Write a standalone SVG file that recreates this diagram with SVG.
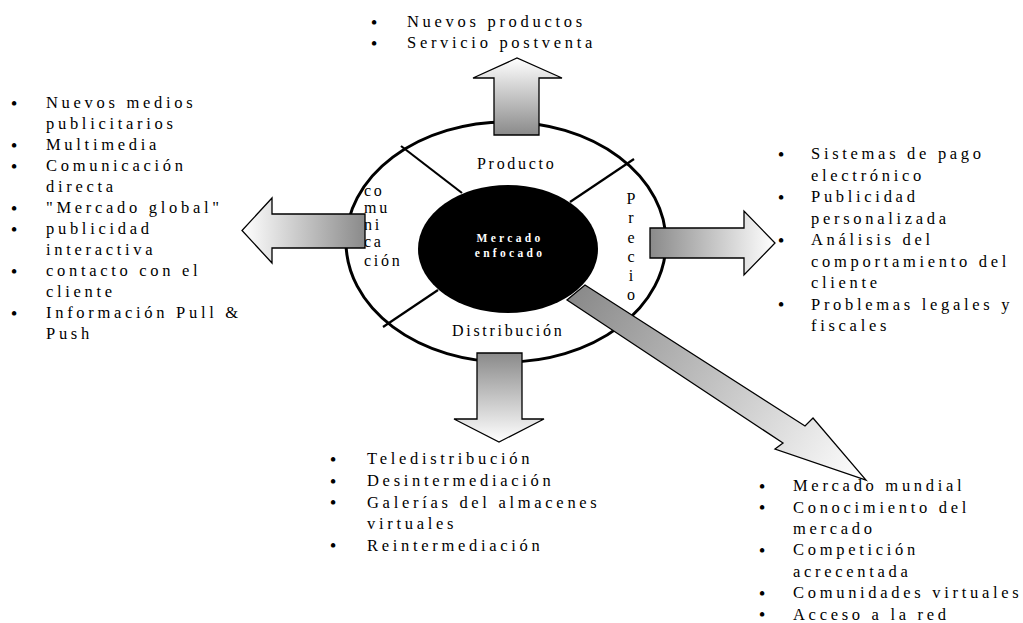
<svg xmlns="http://www.w3.org/2000/svg" width="1023" height="623" viewBox="0 0 1023 623">
<style>
.t{font-family:"Liberation Serif","Times New Roman",serif;font-size:16.5px;letter-spacing:3.7px;fill:#000}
.b{font-family:"Liberation Serif","Times New Roman",serif;font-size:19px;fill:#000;text-anchor:middle}
.lab{font-family:"Liberation Serif","Times New Roman",serif;font-size:16px;letter-spacing:2.7px;fill:#000}
.v{font-family:"Liberation Serif","Times New Roman",serif;font-size:16px;fill:#000;text-anchor:middle}
.core{font-family:"Liberation Serif","Times New Roman",serif;font-size:11.5px;font-weight:bold;letter-spacing:3.3px;fill:#fff;text-anchor:middle}
.arrow{stroke:#000;stroke-width:1.3;stroke-linejoin:miter}
.div{stroke:#000;stroke-width:2.2}
</style>
<defs>
<linearGradient id="gUp" x1="0" y1="1" x2="0" y2="0"><stop offset="0" stop-color="#8a8a8a"/><stop offset="1" stop-color="#ffffff"/></linearGradient>
<linearGradient id="gDown" x1="0" y1="0" x2="0" y2="1"><stop offset="0" stop-color="#8a8a8a"/><stop offset="1" stop-color="#ffffff"/></linearGradient>
<linearGradient id="gLeft" x1="1" y1="0" x2="0" y2="0"><stop offset="0" stop-color="#8a8a8a"/><stop offset="1" stop-color="#ffffff"/></linearGradient>
<linearGradient id="gRight" x1="0" y1="0" x2="1" y2="0"><stop offset="0" stop-color="#8a8a8a"/><stop offset="1" stop-color="#ffffff"/></linearGradient>
<linearGradient id="gDiag" gradientUnits="userSpaceOnUse" x1="576" y1="292" x2="866" y2="480"><stop offset="0" stop-color="#8a8a8a"/><stop offset="1" stop-color="#ffffff"/></linearGradient>
</defs>
<rect width="1023" height="623" fill="#fff"/>

<g id="mercado">
<ellipse cx="506" cy="242" rx="160" ry="120" fill="#fff" stroke="#000" stroke-width="3"/>
<line class="div" x1="401" y1="146" x2="462" y2="193"/>
<line class="div" x1="634" y1="159" x2="570" y2="202"/>
<line class="div" x1="383" y1="327" x2="438" y2="290"/>
<ellipse cx="508" cy="249" rx="90" ry="64" fill="#000"/>
<text class="core" x="510" y="242">Mercado</text>
<text class="core" x="510" y="257">enfocado</text>
<text class="lab" x="477" y="169">Producto</text>
<text class="lab" x="452" y="336">Distribución</text>
<text class="lab" x="364"><tspan x="364" y="196">co</tspan><tspan x="364" y="213">mu</tspan><tspan x="364" y="230">ni</tspan><tspan x="364" y="247">ca</tspan><tspan x="364" y="266">ción</tspan></text>
<text class="v"><tspan x="631" y="204">P</tspan><tspan x="631" y="223">r</tspan><tspan x="631" y="243">e</tspan><tspan x="631" y="262">c</tspan><tspan x="631" y="281">i</tspan><tspan x="631" y="300">o</tspan></text>
</g>

<g id="connectors">
<polygon class="arrow" fill="url(#gUp)" points="494,135 494,78 473,78 517,58 562,78 539,78 539,135"/>
<polygon class="arrow" fill="url(#gLeft)" points="365,214 272,214 272,198 242,230.5 272,263 272,248 365,248"/>
<polygon class="arrow" fill="url(#gRight)" points="650,228 744,228 744,211 775,243 744,275 744,258 650,258"/>
<polygon class="arrow" fill="url(#gDown)" points="477,353 522,353 522,419 544,419 499,442 454,419 477,419"/>
<polygon class="arrow" fill="url(#gDiag)" points="585,285 805,426 813,418 866,480 775,449 783,443 567,300"/>
</g>

<g id="lista-producto">
<text class="b" x="374" y="28.5">•</text><text class="t" x="407" y="27">Nuevos productos</text>
<text class="b" x="374" y="49.5">•</text><text class="t" x="407" y="48">Servicio postventa</text>
</g>

<g id="lista-comunicacion">
<text class="b" x="14" y="109.5">•</text><text class="b" x="14" y="151.5">•</text><text class="b" x="14" y="172.5">•</text><text class="b" x="14" y="214.5">•</text><text class="b" x="14" y="235.5">•</text><text class="b" x="14" y="277.5">•</text><text class="b" x="14" y="319.5">•</text>
<text class="t"><tspan x="46" y="108">Nuevos medios</tspan><tspan x="46" y="129">publicitarios</tspan><tspan x="46" y="150">Multimedia</tspan><tspan x="46" y="171">Comunicación</tspan><tspan x="46" y="192">directa</tspan><tspan x="46" y="213">"Mercado global"</tspan><tspan x="46" y="234">publicidad</tspan><tspan x="46" y="255">interactiva</tspan><tspan x="46" y="276">contacto con el</tspan><tspan x="46" y="297">cliente</tspan><tspan x="46" y="318">Información Pull &amp;</tspan><tspan x="46" y="339">Push</tspan></text>
</g>

<g id="lista-precio">
<text class="b" x="781" y="160.5">•</text><text class="b" x="781" y="203.5">•</text><text class="b" x="781" y="246.5">•</text><text class="b" x="781" y="311">•</text>
<text class="t"><tspan x="811" y="159">Sistemas de pago</tspan><tspan x="811" y="180.5">electrónico</tspan><tspan x="811" y="202">Publicidad</tspan><tspan x="811" y="223.5">personalizada</tspan><tspan x="811" y="245">Análisis del</tspan><tspan x="811" y="266.5">comportamiento del</tspan><tspan x="811" y="288">cliente</tspan><tspan x="811" y="309.5">Problemas legales y</tspan><tspan x="811" y="331">fiscales</tspan></text>
</g>

<g id="lista-distribucion">
<text class="b" x="333" y="465.5">•</text><text class="b" x="333" y="487.5">•</text><text class="b" x="333" y="509">•</text><text class="b" x="333" y="552">•</text>
<text class="t"><tspan x="367" y="464">Teledistribución</tspan><tspan x="367" y="486">Desintermediación</tspan><tspan x="367" y="507.5">Galerías del almacenes</tspan><tspan x="367" y="529">virtuales</tspan><tspan x="367" y="550.5">Reintermediación</tspan></text>
</g>

<g id="lista-mercado">
<text class="b" x="762" y="492.5">•</text><text class="b" x="762" y="514">•</text><text class="b" x="762" y="556.5">•</text><text class="b" x="762" y="599.5">•</text><text class="b" x="762" y="621">•</text>
<text class="t"><tspan x="793" y="491">Mercado mundial</tspan><tspan x="793" y="512.5">Conocimiento del</tspan><tspan x="793" y="534">mercado</tspan><tspan x="793" y="555">Competición</tspan><tspan x="793" y="576.5">acrecentada</tspan><tspan x="793" y="598">Comunidades virtuales</tspan><tspan x="793" y="619.5">Acceso a la red</tspan></text>
</g>
</svg>
